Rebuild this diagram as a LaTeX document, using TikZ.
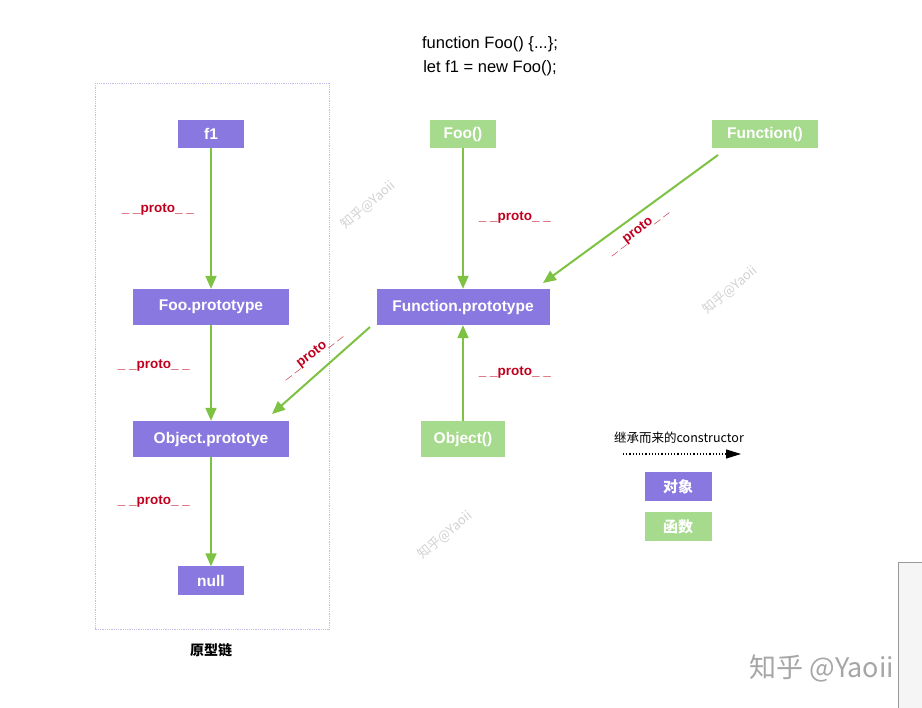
\documentclass[tikz,border=0pt]{standalone}
\usepackage{fontspec}
\setmainfont{Liberation Sans}
\newfontfamily\cjk{Noto Sans CJK SC}
\usetikzlibrary{arrows.meta}
\definecolor{obj}{HTML}{8878E0}
\definecolor{fun}{HTML}{A6DA8C}
\definecolor{arr}{HTML}{7DC242}
\definecolor{lab}{HTML}{C0001E}
\begin{document}
\begin{tikzpicture}[x=1pt,y=-1pt,
  box/.style={fill=#1,text=white,font=\fontsize{15.5}{18}\selectfont\bfseries,inner sep=0pt,anchor=center},
  o/.style={box=obj},
  f/.style={box=fun},
  pa/.style={draw=arr,line width=2pt,-{Triangle[length=13pt,width=11pt]}},
  pl/.style={text=lab,font=\fontsize{13.5}{15}\selectfont\bfseries},
  wm/.style={text=black!18,font=\cjk\fontsize{13}{15}\selectfont,rotate=40}]
\useasboundingbox (0,0) rectangle (922,708);
\draw[obj!50,densely dotted,line width=0.8pt] (95,83) rectangle (329,629);
\node[font=\cjk\fontsize{14}{16}\selectfont\bfseries] (chain) at (211,650) {原型链};
\node[align=center,font=\fontsize{16.5}{24}\selectfont] (title) at (490,56) {function Foo() \{...\};\\let f1 = new Foo();};
\node[o,minimum width=66,minimum height=28] (f1) at (211,134) {f1};
\node[o,minimum width=156,minimum height=36] (fp) at (211,307) {Foo.prototype};
\node[o,minimum width=156,minimum height=36] (op) at (211,439) {Object.prototye};
\node[o,minimum width=66,minimum height=29] (nul) at (211,581) {null};
\node[f,minimum width=66,minimum height=28] (foo) at (463,134) {Foo()};
\node[f,minimum width=106,minimum height=28] (fn) at (765,134) {Function()};
\node[o,minimum width=173,minimum height=36] (fnp) at (463,307) {Function.prototype};
\node[f,minimum width=84,minimum height=36] (ob) at (463,439) {Object()};
\node[o,minimum width=67,minimum height=29,font=\cjk\fontsize{15}{17}\selectfont\bfseries] (l1) at (678,487) {对象};
\node[f,minimum width=67,minimum height=29,font=\cjk\fontsize{15}{17}\selectfont\bfseries] (l2) at (678,527) {函数};
\draw[pa] (f1) -- (fp);
\draw[pa] (fp) -- (op);
\draw[pa] (op) -- (nul);
\draw[pa] (foo) -- (fnp);
\draw[pa] (ob) -- (fnp);
\coordinate (a1) at (718,155); \coordinate (a2) at (543,283);
\draw[pa] (a1) -- (a2);
\coordinate (b1) at (370,327); \coordinate (b2) at (272,414);
\draw[pa] (b1) -- (b2);
\node[pl] (p1) at (158,210) {\_ \_proto\_ \_};
\node[pl] (p2) at (154,365) {\_ \_proto\_ \_};
\node[pl] (p3) at (154,501) {\_ \_proto\_ \_};
\node[pl] (p4) at (515,218) {\_ \_proto\_ \_};
\node[pl] (p5) at (515,372) {\_ \_proto\_ \_};
\node[pl,rotate=37] (p6) at (638,231) {\_ \_proto\_ \_};
\node[pl,rotate=37] (p7) at (312,355) {\_ \_proto\_ \_};
\node[font=\cjk\fontsize{12.5}{14}\selectfont] (leg) at (679,438) {继承而来的constructor};
\coordinate (d1) at (623,454); \coordinate (d2) at (741,454);
\draw[dotted,line width=1.2pt,-{Triangle[length=15pt,width=9pt]}] (d1) -- (d2);
\node[wm] (w1) at (368,205) {知乎@Yaoii};
\node[wm] (w2) at (730,290) {知乎@Yaoii};
\node[wm] (w3) at (445,535) {知乎@Yaoii};
\fill[black!4] (898,562) rectangle (922,708);
\draw[black!40] (898,708) -- (898,562) -- (922,562);
\node[text=black!35,font=\cjk\fontsize{27}{30}\selectfont] (wm4) at (822,668) {知乎 @Yaoii};
\end{tikzpicture}
\end{document}
